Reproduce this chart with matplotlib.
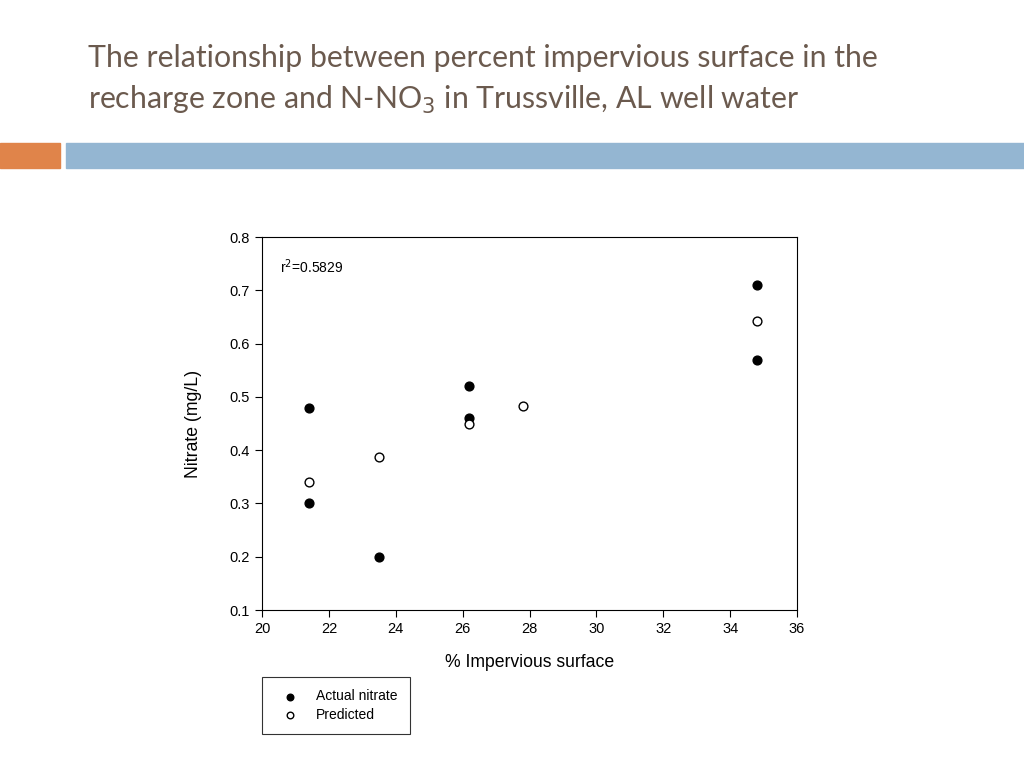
import matplotlib.pyplot as plt
from matplotlib.patches import Rectangle

# data
imperv_actual = [21.4, 21.4, 23.5, 26.2, 26.2, 34.8, 34.8]
nitrate_actual = [0.48, 0.30, 0.20, 0.52, 0.46, 0.71, 0.57]
imperv_pred = [21.4, 23.5, 26.2, 27.8, 34.8]
nitrate_pred = [0.340, 0.388, 0.449, 0.483, 0.642]
x_ticks = [20, 22, 24, 26, 28, 30, 32, 34, 36]
y_ticks = [0.1, 0.2, 0.3, 0.4, 0.5, 0.6, 0.7, 0.8]

plt.rcParams['font.family'] = ['Liberation Sans', 'DejaVu Sans']

fig = plt.figure(figsize=(10.24, 7.68), dpi=100)

# slide title
title_color = "#6B5A4E"
fig.text(88 / 1024, 1 - 58 / 768, "The relationship between percent impervious surface in the",
         fontsize=21.8, color=title_color, family="Lato", va="center", ha="left")
fig.text(88 / 1024, 1 - 100 / 768, "recharge zone and N-NO$_3$ in Trussville, AL well water",
         fontsize=21.8, color=title_color, family="Lato", va="center", ha="left")

# decorative bars under the title
fig.patches.append(Rectangle((0, 1 - 168 / 768), 60 / 1024, 25 / 768,
                             transform=fig.transFigure, color="#E0844A", zorder=0))
fig.patches.append(Rectangle((66 / 1024, 1 - 168 / 768), 958 / 1024, 25 / 768,
                             transform=fig.transFigure, color="#94B6D2", zorder=0))

ax = fig.add_axes([262 / 1024, 1 - 610 / 768, 535 / 1024, 373 / 768])
ax.scatter(imperv_actual, nitrate_actual, s=40, color="black", zorder=3, label="Actual nitrate")
ax.scatter(imperv_pred, nitrate_pred, s=40, facecolor="white", edgecolor="black",
           linewidth=1, zorder=3, label="Predicted")

ax.set_xlim(20, 36)
ax.set_ylim(0.1, 0.8)
ax.set_xticks(x_ticks)
ax.set_yticks(y_ticks)
ax.set_yticklabels([f"{v:.1f}" for v in y_ticks])
ax.tick_params(direction="out", length=5, labelsize=10.5, width=0.8)
for s in ax.spines.values():
    s.set_linewidth(0.8)

ax.set_xlabel("% Impervious surface", fontsize=12.7, labelpad=13)
ax.set_ylabel("Nitrate (mg/L)", fontsize=12.7, labelpad=20)
ax.text(0.033, 0.92, "r$^2$=0.5829", transform=ax.transAxes, fontsize=10, va="center")

leg = fig.legend(loc="upper left", bbox_to_anchor=(262 / 1024, 1 - 677 / 768),
                 borderaxespad=0, frameon=True, fancybox=False, edgecolor="black",
                 fontsize=10, handletextpad=0.8, borderpad=0.9, labelspacing=0.3,
                 markerscale=0.75, handlelength=2.2)
leg.get_frame().set_linewidth(0.8)

plt.savefig("out.png", dpi=100)
